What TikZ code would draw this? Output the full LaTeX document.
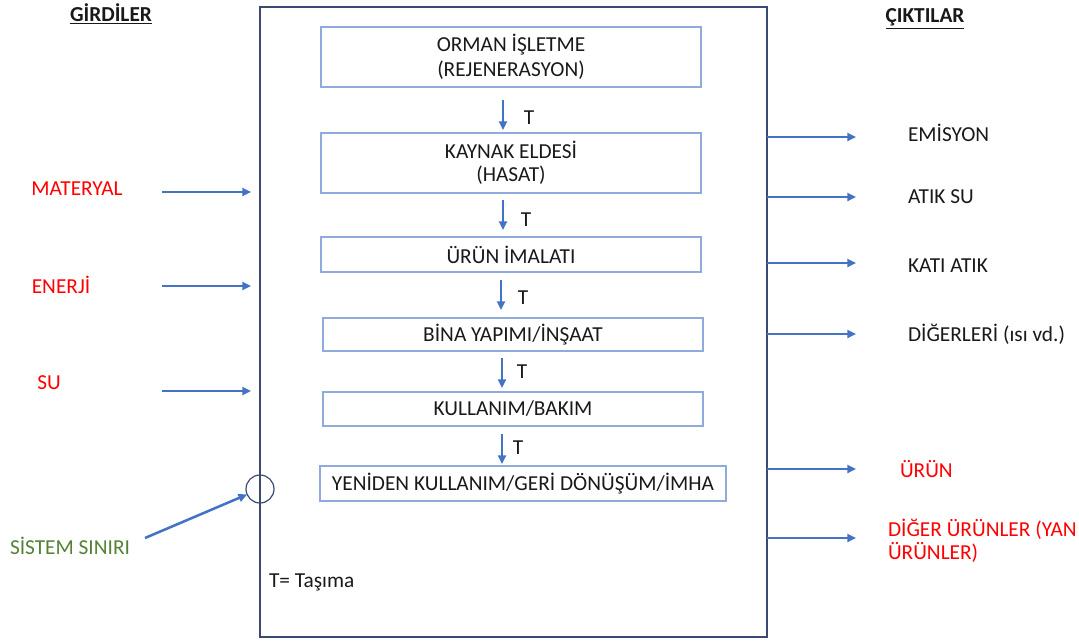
\documentclass[tikz,border=0pt]{standalone}
\usepackage{fontspec}
\setmainfont{Carlito}
\usetikzlibrary{arrows.meta,calc}
\definecolor{arrblue}{HTML}{4472C4}
\definecolor{boxblue}{HTML}{8FAADC}
\definecolor{frame}{HTML}{3B4A72}
\definecolor{txtred}{HTML}{FF0000}
\definecolor{txtgreen}{HTML}{548235}
\begin{document}
\begin{tikzpicture}[x=0.75pt,y=-0.75pt,
  every node/.style={font=\fontsize{16}{18.75}\selectfont, inner sep=0pt, outer sep=0pt},
  stage/.style={draw=boxblue, line width=1.1pt, minimum width=285pt, align=center, text=black!90},
  arr/.style={draw=arrblue, line width=1.9pt, -{Triangle[length=6.5pt,width=6pt]}},
  vlab/.style={text=black!90},
  inlab/.style={text=txtred},
  outlab/.style={anchor=west, text=black!90},
  head/.style={font=\fontsize{16}{18.75}\selectfont\bfseries, text=black!90}
]
\useasboundingbox (0,0) rectangle (1079,640);
% system boundary
\node[draw=frame, line width=1.1pt, minimum width=380.25pt, minimum height=472.5pt] (sys) at (513.5,322) {};
% stages
\node[stage, minimum height=45pt] (b1) at (511,57) {ORMAN İŞLETME\\(REJENERASYON)};
\node[stage, minimum height=45pt] (b2) at (511,163) {KAYNAK ELDESİ\\[-1.5pt](HASAT)};
\node[stage, minimum height=26.25pt] (b3) at (511,254.5) {ÜRÜN İMALATI};
\node[stage, minimum height=24.75pt] (b4) at (513,334.5) {BİNA YAPIMI/İNŞAAT};
\node[stage, minimum height=25.5pt] (b5) at (513,409) {KULLANIM/BAKIM};
\node[stage, minimum width=304.5pt, minimum height=26.25pt] (b6) at (523,483.5) {YENİDEN KULLANIM/GERİ DÖNÜŞÜM/İMHA};
% transport arrows
\draw[arr, shorten <=9.75pt, shorten >=2.25pt] ($(b1.south)+(-8,0)$) -- ($(b2.north)+(-8,0)$);
\draw[arr, shorten <=5.25pt, shorten >=5.25pt] ($(b2.south)+(-8,0)$) -- ($(b3.north)+(-8,0)$);
\draw[arr, shorten <=6pt, shorten >=6pt] ($(b3.south)+(-10,0)$) -- ($(b4.north)+(-12,0)$);
\draw[arr, shorten <=5.25pt, shorten >=3pt] ($(b4.south)+(-11,0)$) -- ($(b5.north)+(-11,0)$);
\draw[arr, shorten <=6pt, shorten >=1.5pt] ($(b5.south)+(-11,0)$) -- ($(b6.north)+(-21,0)$);
\node[vlab] (t1) at (529,118) {T};
\node[vlab] (t2) at (526,220) {T};
\node[vlab] (t3) at (523,298) {T};
\node[vlab] (t4) at (522,372) {T};
\node[vlab] (t5) at (518,448) {T};
% headings
\node[head] (gir) at (111,14) {\underline{GİRDİLER}};
\node[head] (cik) at (925,19) {\underline{ÇIKTILAR}};
% inputs
\node[inlab] (mat) at (77,189) {MATERYAL};
\node[inlab] (ene) at (61,285) {ENERJİ};
\node[inlab] (su) at (49,383) {SU};
\coordinate (i1) at (162,192);
\coordinate (i2) at (162,286);
\coordinate (i3) at (162,391);
\draw[arr, shorten >=6.75pt] (i1) -- (sys.west |- i1);
\draw[arr, shorten >=6.75pt] (i2) -- (sys.west |- i2);
\draw[arr, shorten >=6.75pt] (i3) -- (sys.west |- i3);
% system boundary marker
\node[draw=frame, line width=0.9pt, circle, minimum size=21pt] (circ) at (260,489) {};
\node[text=txtgreen] (ss) at (70,546) {SİSTEM SINIRI};
\coordinate (ssa) at (145,538);
\draw[arr] (ssa) -- (circ);
\node[anchor=west, text=black!90] (tas) at (269,582) {T= Taşıma};
% outputs
\coordinate (o1) at (856,137);
\coordinate (o2) at (856,197);
\coordinate (o3) at (856,263);
\coordinate (o4) at (856,334);
\coordinate (o5) at (856,469);
\coordinate (o6) at (856,538);
\foreach \o in {o1,o2,o3,o4,o5,o6} \draw[arr] (sys.east |- \o) -- (\o);
\node[outlab] (emi) at (908,133) {EMİSYON};
\node[outlab] (asu) at (908,197) {ATIK SU};
\node[outlab] (kat) at (908,266) {KATI ATIK};
\node[outlab] (dig) at (908,334) {DİĞERLERİ (ısı vd.)};
\node[outlab, text=txtred] (urn) at (900,469) {ÜRÜN};
\node[outlab, text=txtred, align=left] (yan) at (888,541) {DİĞER ÜRÜNLER (YAN\\[-1.5pt]ÜRÜNLER)};
\end{tikzpicture}
\end{document}
